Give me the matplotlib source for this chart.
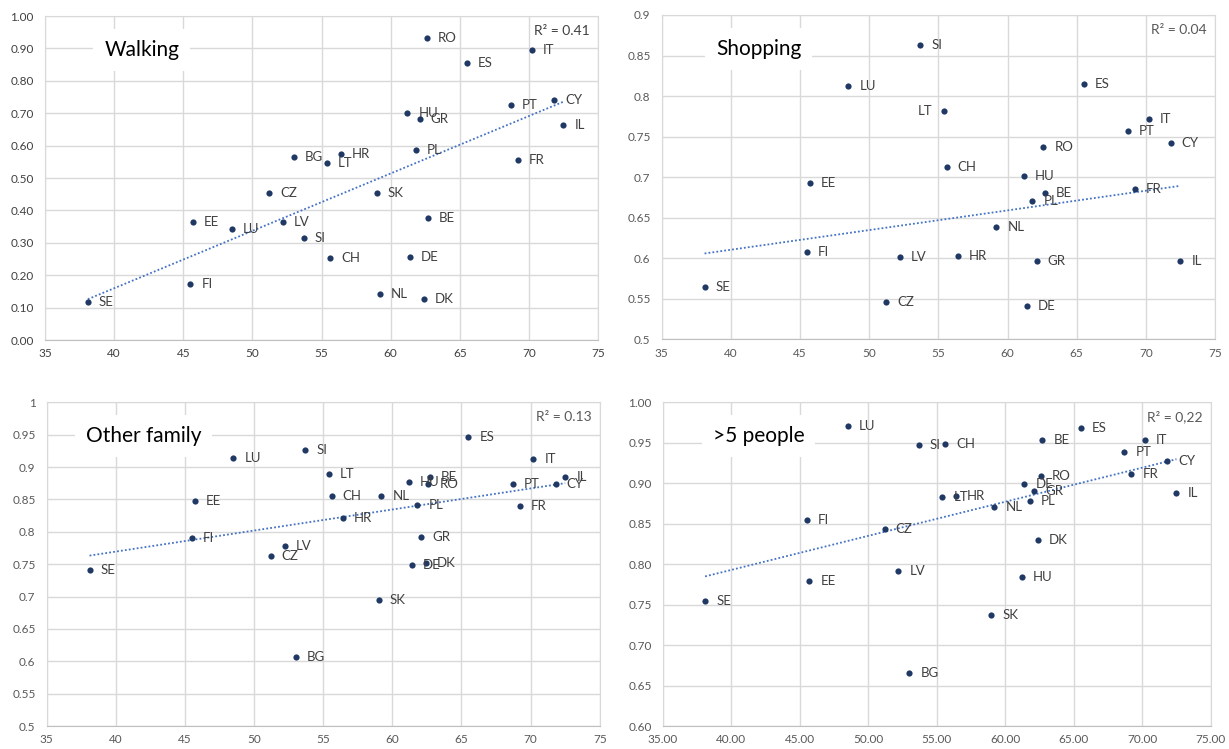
import numpy as np
import matplotlib.pyplot as plt
from matplotlib.ticker import FormatStrFormatter, FuncFormatter

plt.rcParams['font.family'] = ['Lato', 'DejaVu Sans']

countries = ["SE", "FI", "EE", "LU", "CZ", "LV", "SI", "BG", "LT", "HR", "CH", "SK", "NL",
             "HU", "DE", "PL", "GR", "DK", "RO", "BE", "ES", "PT", "FR", "IT", "CY", "IL"]
stringency = [38.1, 45.5, 45.7, 48.5, 51.2, 52.2, 53.7, 53.0, 55.4, 56.4, 55.6, 59.0, 59.2,
              61.2, 61.4, 61.8, 62.1, 62.4, 62.6, 62.7, 65.5, 68.7, 69.2, 70.2, 71.8, 72.5]

walking = [0.116, 0.172, 0.365, 0.343, 0.455, 0.363, 0.314, 0.566, 0.545, 0.574, 0.252, 0.453, 0.143,
           0.702, 0.257, 0.585, 0.682, 0.127, 0.932, 0.377, 0.854, 0.724, 0.557, 0.896, 0.741, 0.663]
# BG, SK and DK fall below the 0.5 axis floor and are clipped, but still count in the trend
shopping = [0.565, 0.608, 0.693, 0.813, 0.546, 0.601, 0.863, 0.44, 0.782, 0.603, 0.712, 0.45, 0.638,
            0.702, 0.541, 0.671, 0.596, 0.44, 0.737, 0.681, 0.815, 0.757, 0.685, 0.772, 0.742, 0.597]
other_family = [0.741, 0.791, 0.848, 0.914, 0.762, 0.778, 0.926, 0.607, 0.890, 0.821, 0.855, 0.694, 0.855,
                0.877, 0.749, 0.841, 0.792, 0.752, 0.874, 0.885, 0.947, 0.874, 0.840, 0.912, 0.874, 0.884]
over_five = [0.754, 0.854, 0.779, 0.971, 0.843, 0.792, 0.947, 0.665, 0.883, 0.884, 0.949, 0.737, 0.870,
             0.784, 0.899, 0.878, 0.890, 0.830, 0.909, 0.954, 0.968, 0.938, 0.911, 0.954, 0.928, 0.888]

titles = ["Walking", "Shopping", "Other family", ">5 people"]
r2_labels = ["R² = 0.41", "R² = 0.04", "R² = 0.13", "R² = 0,22"]

dot_color = "#1f3864"
trend_color = "#4472c4"
grid_color = "#d9d9d9"


def draw_panel(ax, y, title, r2, ylim, ystep, yfmt, xfmt, left_labels=(), tick_color="#595959"):
    x = np.array(stringency)
    y = np.array(y)

    ax.scatter(x, y, s=20, color=dot_color, zorder=3, linewidths=0)
    for c, xi, yi in zip(countries, x, y):
        if c in left_labels:
            ax.annotate(c, (xi, yi), xytext=(-8, 0), textcoords="offset points",
                        ha="right", va="center", fontsize=9.5, color="#404040", zorder=4)
        else:
            ax.annotate(c, (xi, yi), xytext=(8, 0), textcoords="offset points",
                        ha="left", va="center", fontsize=9.5, color="#404040", zorder=4)

    # linear trend line over the data range
    k, b = np.polyfit(x, y, 1)
    xs = np.array([x.min(), x.max()])
    ax.plot(xs, k * xs + b, color=trend_color, lw=1.3, linestyle=(0, (1, 1.2)), zorder=2)

    ax.set_xlim(35, 75)
    ax.set_ylim(*ylim)
    ax.set_xticks(np.arange(35, 76, 5))
    ax.set_yticks(np.arange(ylim[0], ylim[1] + 1e-9, ystep))
    ax.xaxis.set_major_formatter(xfmt)
    ax.yaxis.set_major_formatter(yfmt)
    ax.grid(True, color=grid_color, lw=1)
    ax.set_axisbelow(True)
    ax.tick_params(length=0, labelsize=8.5, labelcolor=tick_color)
    ax.tick_params(axis="y", pad=8)
    ax.tick_params(axis="x", pad=6)
    for s in ax.spines.values():
        s.set_color(grid_color)
    ax.spines["bottom"].set_color("#bfbfbf")

    ax.text(0.175, 0.895, title, transform=ax.transAxes, ha="center", va="center",
            fontsize=15, color="black", zorder=5,
            bbox=dict(facecolor="white", edgecolor="none", pad=8))
    ax.text(0.985, 0.955, r2, transform=ax.transAxes, ha="right", va="center",
            fontsize=10, color=tick_color, zorder=5)


general = FuncFormatter(lambda v, p: f"{v:.2f}".rstrip("0").rstrip("."))

fig = plt.figure(figsize=(12.29, 7.49), dpi=100)
ax1 = fig.add_axes([0.0366, 0.546, 0.450, 0.4326])
ax2 = fig.add_axes([0.5384, 0.547, 0.4502, 0.4330])
ax3 = fig.add_axes([0.0380, 0.0307, 0.450, 0.4322])
ax4 = fig.add_axes([0.5392, 0.0307, 0.4459, 0.4322])

draw_panel(ax1, walking, titles[0], r2_labels[0], (0, 1.0), 0.1,
           FormatStrFormatter("%.2f"), FormatStrFormatter("%d"), tick_color="#404040")
draw_panel(ax2, shopping, titles[1], r2_labels[1], (0.5, 0.9), 0.05,
           general, FormatStrFormatter("%d"), left_labels=("LT",))
draw_panel(ax3, other_family, titles[2], r2_labels[2], (0.5, 1.0), 0.05,
           general, FormatStrFormatter("%d"))
draw_panel(ax4, over_five, titles[3], r2_labels[3], (0.6, 1.0), 0.05,
           FormatStrFormatter("%.2f"), FormatStrFormatter("%.2f"))

fig.savefig("out.png", dpi=100, facecolor="white")
